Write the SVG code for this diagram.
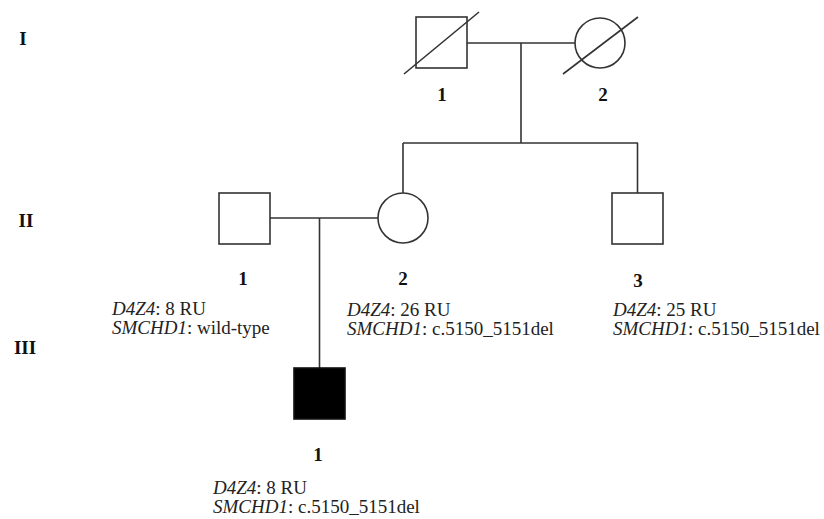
<svg xmlns="http://www.w3.org/2000/svg" width="824" height="519" viewBox="0 0 824 519">
<style>
.sym{fill:#fff;stroke:#333;stroke-width:1.6}
.aff{fill:#000;stroke:#111;stroke-width:1.6}
.ln{fill:none;stroke:#333;stroke-width:1.6}
.num{font-family:"Liberation Serif","Times New Roman",serif;font-weight:bold;font-size:19px;fill:#111;text-anchor:middle}
.gen{font-family:"Liberation Serif","Times New Roman",serif;font-weight:bold;font-size:19px;fill:#111;text-anchor:middle}
.info{font-family:"Liberation Serif","Times New Roman",serif;font-size:19px;fill:#222}
.it{font-style:italic}
</style>
<rect width="824" height="519" fill="#fff"/>
<g id="generations">
<text class="gen" x="23" y="45">I</text>
<text class="gen" x="26" y="227">II</text>
<text class="gen" x="25" y="354">III</text>
</g>
<g id="connectors">
<line class="ln" x1="467" y1="43" x2="575" y2="43"/>
<line class="ln" x1="521" y1="43" x2="521" y2="143"/>
<line class="ln" x1="403" y1="143" x2="638" y2="143"/>
<line class="ln" x1="403" y1="143" x2="403" y2="193"/>
<line class="ln" x1="637.5" y1="143" x2="637.5" y2="193"/>
<line class="ln" x1="270" y1="218" x2="378" y2="218"/>
<line class="ln" x1="319.5" y1="218" x2="319.5" y2="368"/>
</g>
<g id="I-1">
<rect class="sym" x="416" y="17" width="51" height="51"/>
<line class="ln" x1="404" y1="74" x2="479" y2="12"/>
<text class="num" x="442" y="101">1</text>
</g>
<g id="I-2">
<circle class="sym" cx="600" cy="43" r="25"/>
<line class="ln" x1="563" y1="74" x2="638" y2="17"/>
<text class="num" x="603" y="101">2</text>
</g>
<g id="II-1">
<rect class="sym" x="219" y="193" width="51" height="51"/>
<text class="num" x="243" y="285">1</text>
<text class="info" x="112" y="315"><tspan class="it">D4Z4</tspan>: 8 RU</text>
<text class="info" x="112" y="334"><tspan class="it">SMCHD1</tspan>: wild-type</text>
</g>
<g id="II-2">
<circle class="sym" cx="403" cy="218" r="25"/>
<text class="num" x="403" y="285">2</text>
<text class="info" x="347" y="316"><tspan class="it">D4Z4</tspan>: 26 RU</text>
<text class="info" x="347" y="335"><tspan class="it">SMCHD1</tspan>: c.5150_5151del</text>
</g>
<g id="II-3">
<rect class="sym" x="612" y="193" width="51" height="51"/>
<text class="num" x="638" y="287">3</text>
<text class="info" x="613" y="316"><tspan class="it">D4Z4</tspan>: 25 RU</text>
<text class="info" x="613" y="335"><tspan class="it">SMCHD1</tspan>: c.5150_5151del</text>
</g>
<g id="III-1">
<rect class="aff" x="294" y="368" width="51" height="51"/>
<text class="num" x="318" y="461">1</text>
<text class="info" x="213" y="494"><tspan class="it">D4Z4</tspan>: 8 RU</text>
<text class="info" x="213" y="513"><tspan class="it">SMCHD1</tspan>: c.5150_5151del</text>
</g>
</svg>
